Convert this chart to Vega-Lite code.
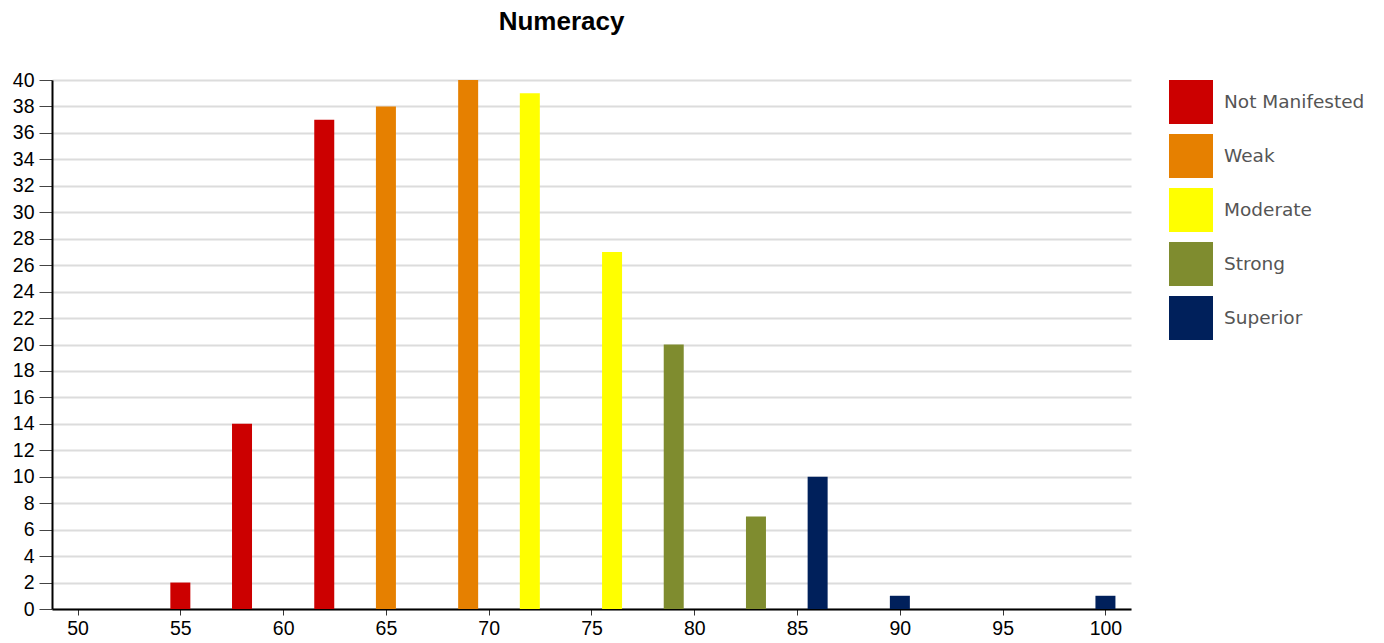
{
  "$schema": "https://vega.github.io/schema/vega-lite/v6.json",
  "width": 1079,
  "height": 529,
  "autosize": "none",
  "padding": {"left": 52, "top": 80, "right": 253, "bottom": 34},
  "background": "white",
  "title": {
    "text": "Numeracy",
    "font": "Liberation Sans",
    "fontSize": 26,
    "fontWeight": "bold",
    "color": "#000000",
    "dx": -30,
    "offset": 35
  },
  "data": {
    "values": [
      {"score": 55, "count": 2, "level": "Not Manifested"},
      {"score": 58, "count": 14, "level": "Not Manifested"},
      {"score": 62, "count": 37, "level": "Not Manifested"},
      {"score": 65, "count": 38, "level": "Weak"},
      {"score": 69, "count": 40, "level": "Weak"},
      {"score": 72, "count": 39, "level": "Moderate"},
      {"score": 76, "count": 27, "level": "Moderate"},
      {"score": 79, "count": 20, "level": "Strong"},
      {"score": 83, "count": 7, "level": "Strong"},
      {"score": 86, "count": 10, "level": "Superior"},
      {"score": 90, "count": 1, "level": "Superior"},
      {"score": 100, "count": 1, "level": "Superior"}
    ]
  },
  "mark": {"type": "bar", "size": 20},
  "encoding": {
    "x": {
      "field": "score",
      "type": "quantitative",
      "scale": {"domain": [49, 101], "nice": false, "zero": false},
      "axis": {
        "values": [50, 55, 60, 65, 70, 75, 80, 85, 90, 95, 100],
        "title": null,
        "grid": false,
        "domainColor": "#000000",
        "domainWidth": 2,
        "tickColor": "#333333",
        "tickSize": 6,
        "labelFont": "Liberation Sans",
        "labelFontSize": 19.5,
        "labelColor": "#000000",
        "labelPadding": 4
      }
    },
    "y": {
      "field": "count",
      "type": "quantitative",
      "scale": {"domain": [0, 40], "nice": false},
      "axis": {
        "values": [0, 2, 4, 6, 8, 10, 12, 14, 16, 18, 20, 22, 24, 26, 28, 30, 32, 34, 36, 38, 40],
        "title": null,
        "grid": true,
        "gridColor": "#dcdcdc",
        "gridWidth": 2,
        "domainColor": "#000000",
        "domainWidth": 2,
        "tickColor": "#444444",
        "tickSize": 13,
        "labelFont": "Liberation Sans",
        "labelFontSize": 19.5,
        "labelColor": "#000000",
        "labelPadding": 5
      }
    },
    "color": {
      "field": "level",
      "type": "nominal",
      "scale": {
        "domain": ["Not Manifested", "Weak", "Moderate", "Strong", "Superior"],
        "range": ["#cc0000", "#e68000", "#ffff00", "#7f8c2f", "#00205b"]
      },
      "legend": {
        "title": null,
        "orient": "none",
        "legendX": 1117,
        "legendY": 0,
        "padding": 0,
        "symbolType": "square",
        "symbolSize": 1936,
        "symbolStrokeWidth": 0,
        "symbolOpacity": 1,
        "labelFont": "DejaVu Sans",
        "labelFontSize": 18.5,
        "labelColor": "#555555",
        "labelOffset": 11,
        "rowPadding": 10,
        "labelLimit": 300
      }
    }
  },
  "config": {
    "view": {"stroke": null}
  }
}
